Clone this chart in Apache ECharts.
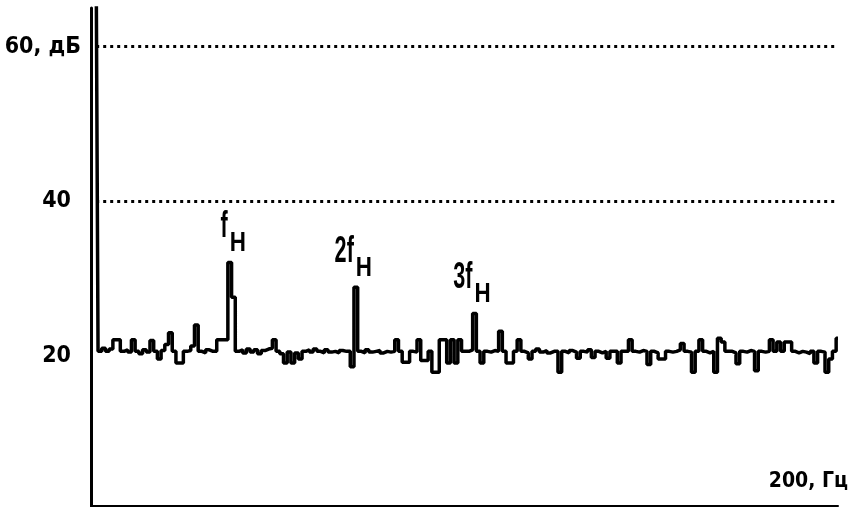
<!DOCTYPE html>
<html>
<head>
<meta charset="utf-8">
<script src="https://cdn.jsdelivr.net/npm/echarts@6/dist/echarts.min.js"></script>
<style>html,body{margin:0;padding:0;background:#fff;}#c{width:853px;height:507px;}</style>
</head>
<body>
<div id="c"></div>
<script>
// spectrum level (dB) per 1 Hz bin, 0..200 Hz
const levels = [
  70, 20.6, 21.0, 20.6, 20.9, 22.1, 22.1, 20.6, 20.8, 20.5,
  22.1, 20.6, 20.3, 20.8, 20.5, 22.0, 20.6, 19.6, 20.7, 21.5,
  23.0, 20.6, 19.1, 19.1, 20.6, 20.7, 21.3, 24.0, 20.6, 20.4,
  20.8, 20.6, 20.6, 22.1, 22.1, 22.1, 32.1, 27.6, 20.6, 20.8,
  20.4, 20.9, 20.5, 20.8, 20.3, 20.7, 20.9, 21.0, 22.1, 20.6,
  20.3, 19.1, 20.5, 19.1, 20.4, 19.6, 20.6, 20.8, 20.5, 20.9,
  20.6, 20.4, 20.8, 20.5, 20.6, 20.4, 20.7, 20.6, 20.6, 18.6,
  28.9, 20.6, 20.4, 20.8, 20.5, 20.6, 20.7, 20.4, 20.6, 20.5,
  20.6, 22.1, 20.6, 19.2, 19.2, 20.6, 20.5, 22.1, 19.4, 19.4,
  20.6, 17.9, 17.9, 22.1, 22.1, 19.1, 22.1, 19.1, 22.1, 20.6,
  20.6, 20.8, 25.5, 20.6, 19.1, 20.6, 20.5, 20.7, 20.6, 23.2,
  20.6, 19.1, 19.1, 20.6, 22.1, 20.6, 20.4, 19.6, 20.6, 20.9,
  20.5, 20.7, 20.4, 20.6, 20.6, 17.9, 20.6, 20.4, 20.7, 20.5,
  19.7, 20.6, 20.5, 20.8, 19.8, 20.6, 20.4, 20.6, 19.7, 20.6,
  20.6, 19.1, 20.6, 20.6, 22.1, 20.6, 20.5, 20.7, 20.6, 18.9,
  20.6, 20.4, 19.6, 19.6, 20.6, 20.5, 20.6, 20.8, 21.6, 20.6,
  20.5, 17.9, 20.6, 22.1, 20.6, 20.4, 20.6, 17.9, 22.3, 21.8,
  20.6, 20.6, 20.4, 19.0, 20.6, 20.5, 20.7, 20.6, 18.1, 20.6,
  20.5, 20.6, 22.1, 20.6, 21.8, 20.6, 21.8, 21.8, 20.6, 20.4,
  20.6, 20.5, 20.3, 20.6, 19.1, 20.6, 20.5, 17.9, 19.6, 20.6,
  22.3
];
const yTickValues = [20, 40, 60];
const yTopLabel = '60, дБ';
const gridLineValues = [40, 60];
const xEndLabel = '200, Гц';
const harmonicNames = ['f', '2f', '3f'];
const harmonicSub = 'H';
const harmonicBins = [36, 70, 102];

const chart = echarts.init(document.getElementById('c'), null, {renderer: 'canvas'});
const labelFont = "'DejaVu Sans Condensed', 'DejaVu Sans', sans-serif";

chart.setOption({
  animation: false,
  backgroundColor: '#fff',
  grid: {left: 91, right: 15, top: 8, bottom: 1, containLabel: false},
  xAxis: {
    type: 'value', min: -1.4, max: 200,
    axisLine: {show: true, onZero: false, lineStyle: {color: '#000', width: 2}},
    axisTick: {show: false},
    axisLabel: {show: false},
    splitLine: {show: false},
    name: xEndLabel,
    nameLocation: 'end',
    nameGap: 10,
    nameTextStyle: {
      color: '#000', fontWeight: 'bold', fontSize: 21, fontFamily: labelFont,
      align: 'right', verticalAlign: 'bottom', padding: [0, 0, 14, 0]
    }
  },
  yAxis: {
    type: 'value', min: 0.6, max: 65,
    axisLine: {show: true, onZero: false, lineStyle: {color: '#000', width: 3}},
    axisTick: {show: false},
    splitLine: {show: false},
    axisLabel: {
      customValues: yTickValues,
      margin: 10,
      formatter: v => v === 60 ? '{a|' + yTopLabel + '}' : '{b|' + v + '}',
      rich: {
        a: {color: '#000', fontWeight: 'bold', fontSize: 23, fontFamily: labelFont},
        b: {color: '#000', fontWeight: 'bold', fontSize: 23, fontFamily: labelFont, padding: [0, 10, 0, 0]}
      }
    }
  },
  series: [{
    type: 'line',
    step: 'middle',
    symbol: 'none',
    clip: true,
    lineStyle: {color: '#000', width: 3.5},
    data: levels.map((v, i) => [i, v]),
    markLine: {
      silent: true,
      symbol: 'none',
      label: {show: false},
      lineStyle: {color: '#000', width: 3, type: [3, 4]},
      data: gridLineValues.map(v => [{coord: [0, v]}, {coord: [200, v]}])
    }
  }]
});

const g = [];
harmonicBins.forEach((b, k) => {
  const p = chart.convertToPixel({gridIndex: 0}, [b, levels[b]]);
  g.push({
    type: 'text', x: p[0] - 2, y: p[1] - 35, scaleX: 0.6,
    style: {text: harmonicNames[k], font: "bold 36px 'Liberation Sans', sans-serif", fill: '#000',
            textAlign: 'right', textVerticalAlign: 'middle'}
  });
  g.push({
    type: 'text', x: p[0] + 0, y: p[1] - 19, scaleX: 0.8,
    style: {text: harmonicSub, font: "bold 28px 'Liberation Sans', sans-serif", fill: '#000',
            textAlign: 'left', textVerticalAlign: 'middle'}
  });
});
chart.setOption({graphic: g});
</script>
</body>
</html>
